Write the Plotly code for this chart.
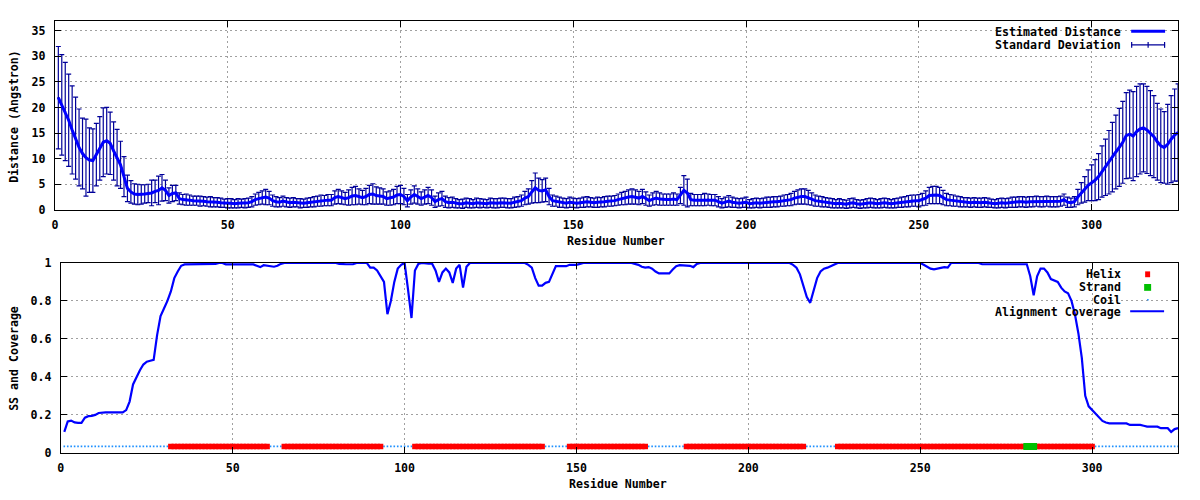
import plotly.graph_objects as go

# ---------------- data ----------------
residues = list(range(1, 326))

distance = [
    21.9, 20.5, 19.2, 17.5, 15.6, 14.0, 12.2, 11.0, 10.2, 9.7,
    9.6, 10.8, 12.0, 13.2, 13.5, 13.0, 11.5, 10.2, 8.8, 6.5,
    4.2, 3.5, 3.1, 3.0, 3.0, 3.1, 3.2, 3.3, 3.6, 3.8,
    4.3, 3.8, 2.8, 3.2, 3.3, 2.2, 2.0, 2.0, 1.9, 1.8,
    1.8, 1.7, 1.7, 1.6, 1.6, 1.5, 1.5, 1.4, 1.3, 1.3,
    1.3, 1.2, 1.3, 1.3, 1.3, 1.4, 1.6, 2.0, 2.2, 2.4,
    2.5, 2.3, 1.8, 1.6, 1.5, 1.7, 1.5, 1.4, 1.5, 1.4,
    1.3, 1.3, 1.4, 1.5, 1.6, 1.7, 1.8, 1.8, 1.9, 1.9,
    2.4, 2.6, 2.4, 2.2, 2.4, 2.7, 2.8, 2.6, 2.4, 2.6,
    3.0, 3.1, 2.8, 2.7, 2.6, 2.2, 2.3, 2.5, 2.9, 3.0,
    2.6, 1.8, 2.5, 3.0, 2.6, 2.2, 2.5, 2.8, 2.4, 1.6,
    2.0, 2.2, 1.6, 1.4, 1.5, 1.3, 1.2, 1.2, 1.4, 1.3,
    1.2, 1.4, 1.3, 1.3, 1.2, 1.4, 1.3, 1.3, 1.4, 1.4,
    1.3, 1.3, 1.5, 1.6, 1.8, 2.3, 2.6, 3.5, 4.3, 3.8,
    3.7, 3.9, 2.6, 1.8, 1.7, 1.5, 1.4, 1.3, 1.5, 1.4,
    1.3, 1.4, 1.5, 1.6, 1.5, 1.4, 1.5, 1.5, 1.6, 1.7,
    1.7, 1.8, 2.0, 2.2, 2.3, 2.5, 2.6, 2.5, 2.3, 2.6,
    2.2, 1.8, 2.1, 2.3, 2.1, 2.0, 2.0, 2.0, 2.1, 2.0,
    2.8, 3.8, 3.3, 2.0, 1.9, 1.9, 1.9, 2.0, 2.0, 1.9,
    1.9, 1.6, 1.3, 1.5, 1.7, 1.5, 1.4, 1.3, 1.4, 1.5,
    1.2, 1.3, 1.4, 1.3, 1.4, 1.5, 1.5, 1.6, 1.6, 1.7,
    1.8, 1.9, 2.0, 2.3, 2.5, 2.6, 2.6, 2.4, 2.1, 1.8,
    1.7, 1.6, 1.5, 1.4, 1.3, 1.2, 1.3, 1.2, 1.1, 1.3,
    1.4, 1.2, 1.1, 1.2, 1.3, 1.4, 1.3, 1.2, 1.3, 1.4,
    1.3, 1.2, 1.3, 1.4, 1.5, 1.6, 1.7, 1.8, 1.8, 1.8,
    2.0, 2.3, 2.8, 2.9, 2.9, 2.8, 2.4, 2.0, 1.9, 1.8,
    1.7, 1.6, 1.5, 1.5, 1.4, 1.5, 1.4, 1.4, 1.5, 1.4,
    1.3, 1.2, 1.3, 1.4, 1.3, 1.4, 1.5, 1.5, 1.6, 1.6,
    1.5, 1.6, 1.6, 1.7, 1.6, 1.6, 1.7, 1.6, 1.6, 1.6,
    1.7, 2.0, 1.5, 1.4, 1.6, 2.5, 3.3, 4.0, 4.8, 5.3,
    5.8, 6.5, 7.5, 8.3, 9.3, 10.3, 11.3, 12.2, 13.2, 14.5,
    14.8, 14.4, 15.3, 15.8, 16.0, 15.6, 15.0, 14.3, 13.3, 12.5,
    12.2, 12.8, 13.8, 14.6, 15.1,
]

std_dev = [
    10.0, 9.8, 9.6, 9.0, 8.6, 8.0, 7.5, 6.9, 7.5, 6.3,
    6.2, 6.1, 6.2, 6.7, 6.5, 6.1, 5.7, 5.5, 4.6, 3.9,
    2.6, 2.2, 2.0, 2.0, 1.9, 1.8, 1.8, 2.5, 2.2, 2.8,
    2.6, 2.0, 1.5, 1.6, 1.5, 1.1, 1.0, 1.1, 1.0, 0.9,
    0.9, 1.0, 0.9, 0.9, 1.0, 0.9, 0.9, 0.9, 0.8, 0.9,
    0.9, 0.8, 0.9, 0.8, 0.9, 0.9, 1.0, 1.1, 1.2, 1.3,
    1.5, 1.3, 1.1, 1.0, 0.9, 1.0, 0.9, 0.9, 0.9, 0.8,
    0.9, 0.8, 0.9, 0.9, 1.0, 1.0, 1.1, 1.0, 1.1, 1.1,
    1.3, 1.4, 1.3, 1.2, 1.5, 1.7, 1.8, 1.5, 1.4, 1.6,
    1.8, 2.0, 1.7, 1.6, 1.5, 1.3, 1.4, 1.5, 1.7, 1.8,
    1.6, 1.2, 1.4, 1.7, 1.5, 1.3, 1.4, 1.6, 1.5, 1.1,
    1.3, 1.4, 1.1, 1.0, 1.0, 0.9, 0.8, 0.9, 0.9, 0.9,
    0.8, 0.9, 0.9, 0.8, 0.8, 0.9, 0.9, 0.9, 0.9, 0.9,
    0.9, 0.9, 1.0, 1.0, 1.1, 1.3, 1.5, 2.2, 2.9, 2.4,
    2.2, 2.3, 1.6, 1.1, 1.0, 1.0, 0.9, 0.9, 1.0, 0.9,
    0.9, 0.9, 1.0, 1.0, 0.9, 0.9, 1.0, 0.9, 1.0, 1.0,
    1.0, 1.0, 1.1, 1.2, 1.3, 1.4, 1.5, 1.4, 1.3, 1.4,
    1.3, 1.1, 1.2, 1.3, 1.2, 1.1, 1.1, 1.1, 1.2, 1.1,
    1.6, 2.9, 2.7, 1.2, 1.1, 1.1, 1.1, 1.2, 1.1, 1.1,
    1.1, 1.0, 0.9, 1.0, 1.1, 1.0, 0.9, 0.9, 0.9, 1.0,
    0.8, 0.9, 0.9, 0.9, 0.9, 1.0, 1.0, 1.0, 1.0, 1.0,
    1.1, 1.1, 1.2, 1.3, 1.4, 1.5, 1.5, 1.4, 1.2, 1.1,
    1.0, 1.0, 0.9, 0.9, 0.9, 0.8, 0.9, 0.8, 0.8, 0.9,
    0.9, 0.8, 0.8, 0.8, 0.9, 0.9, 0.9, 0.8, 0.9, 0.9,
    0.9, 0.8, 0.9, 0.9, 1.0, 1.0, 1.1, 1.1, 1.1, 1.2,
    1.2, 1.4, 1.6, 1.7, 1.7, 1.6, 1.4, 1.2, 1.1, 1.1,
    1.0, 1.0, 0.9, 0.9, 0.9, 0.9, 0.9, 0.9, 0.9, 0.9,
    0.8, 0.8, 0.9, 0.9, 0.9, 0.9, 1.0, 1.0, 1.0, 1.0,
    1.0, 1.0, 1.0, 1.0, 1.0, 1.0, 1.0, 1.0, 1.0, 1.0,
    1.0, 1.1, 1.0, 0.9, 1.0, 1.5, 2.0, 2.5, 3.0, 3.5,
    4.0, 4.5, 5.0, 5.5, 6.2, 6.8, 7.2, 7.6, 8.0, 8.4,
    8.6, 8.7, 8.8, 8.8, 8.6, 8.5, 8.3, 8.0, 7.5, 7.2,
    7.0, 7.8, 8.5, 9.0, 9.5,
]

coverage = [
    0.11, 0.165, 0.17, 0.16, 0.158, 0.158, 0.185, 0.193, 0.195, 0.2,
    0.21, 0.213, 0.213, 0.213, 0.213, 0.213, 0.213, 0.213, 0.225, 0.27,
    0.36, 0.4, 0.435, 0.465, 0.48, 0.485, 0.49, 0.62, 0.72, 0.76,
    0.8, 0.85, 0.92, 0.955, 0.985, 0.992, 0.992, 0.992, 0.992, 0.992,
    0.992, 0.992, 0.992, 0.992, 0.995, 1.0, 1.0, 0.992, 0.992, 0.992,
    0.992, 0.992, 0.992, 0.992, 0.992, 0.992, 0.985, 0.978, 0.988, 0.985,
    0.98, 0.98, 0.985, 0.995, 1.0, 1.0, 1.0, 1.0, 1.0, 1.0,
    1.0, 1.0, 1.0, 1.0, 1.0, 1.0, 1.0, 1.0, 1.0, 1.0,
    0.995, 0.993, 0.993, 0.993, 0.993, 1.0, 1.0, 1.0, 1.0, 0.975,
    0.975, 0.96, 0.93, 0.9, 0.73, 0.8, 0.9, 0.97, 0.99, 1.0,
    0.86, 0.71, 0.96, 0.995, 1.0, 0.996, 0.996, 0.996, 0.96, 0.9,
    0.95, 0.97, 0.95, 0.895, 0.97, 0.99, 0.87, 0.98, 1.0, 1.0,
    1.0, 1.0, 1.0, 1.0, 1.0, 1.0, 1.0, 1.0, 1.0, 1.0,
    1.0, 1.0, 1.0, 1.0, 1.0, 0.99, 0.975, 0.92, 0.88, 0.88,
    0.895, 0.9, 0.94, 0.983, 0.983, 0.983, 0.983, 0.99, 0.99, 0.99,
    0.995, 1.0, 1.0, 1.0, 1.0, 1.0, 1.0, 1.0, 1.0, 1.0,
    1.0, 1.0, 1.0, 1.0, 1.0, 1.0, 0.995, 0.99, 0.98, 0.975,
    0.978, 0.97, 0.955, 0.945, 0.945, 0.945, 0.945, 0.965, 0.983, 0.988,
    0.988, 0.988, 0.985, 0.978, 0.995, 1.0, 1.0, 1.0, 1.0, 1.0,
    1.0, 1.0, 1.0, 1.0, 1.0, 1.0, 1.0, 1.0, 1.0, 1.0,
    1.0, 1.0, 1.0, 1.0, 1.0, 1.0, 1.0, 1.0, 1.0, 1.0,
    1.0, 1.0, 0.99, 0.975, 0.94, 0.88, 0.82, 0.79, 0.86, 0.92,
    0.955, 0.97, 0.975, 0.983, 0.99, 1.0, 1.0, 1.0, 1.0, 1.0,
    1.0, 1.0, 1.0, 1.0, 1.0, 1.0, 1.0, 1.0, 0.997, 0.997,
    0.997, 1.0, 1.0, 1.0, 0.997, 0.997, 1.0, 1.0, 1.0, 1.0,
    0.99, 0.978, 0.97, 0.966, 0.97, 0.978, 0.978, 0.975, 1.0, 1.0,
    1.0, 1.0, 1.0, 1.0, 1.0, 1.0, 1.0, 0.993, 0.993, 0.993,
    0.993, 0.993, 0.993, 0.993, 0.993, 0.993, 0.993, 0.993, 0.993, 0.993,
    0.993, 0.93, 0.83, 0.93, 0.97, 0.97, 0.95, 0.915, 0.906, 0.9,
    0.87, 0.85, 0.84, 0.8, 0.73, 0.63, 0.5, 0.3, 0.245, 0.225,
    0.21, 0.19, 0.168, 0.16, 0.155, 0.155, 0.155, 0.155, 0.155, 0.155,
    0.147, 0.147, 0.147, 0.147, 0.143, 0.138, 0.138, 0.138, 0.138, 0.13,
    0.13, 0.13, 0.11, 0.125, 0.13,
]

# secondary structure segments (first, last residue)
helix_segments = [(32, 60), (65, 93), (103, 140), (148, 170), (182, 216), (226, 280), (284, 300)]
strand_segments = [(281, 283)]
ss_level = 0.034

x_ticks = [0, 50, 100, 150, 200, 250, 300]
dist_ticks = [0, 5, 10, 15, 20, 25, 30, 35]
cov_ticks = [0, 0.2, 0.4, 0.6, 0.8, 1]

# ---------------- build ----------------
def expand(segs):
    out = []
    for a, b in segs:
        out.extend(range(a, b + 1))
    return out

helix_res = expand(helix_segments)
strand_res = expand(strand_segments)
coil_res = [r for r in residues if r not in helix_res and r not in strand_res]

W, H = 1200, 500
FONT = dict(family="DejaVu Sans Mono", size=11.6, color="black", weight="bold")

def px(x):
    return x / W

def py(y):
    return 1 - y / H

LINE_BLUE = "#0000ff"
ERR_BLUE = "#000099"
GRID = "#a0a0a0"

fig = go.Figure()

fig.add_trace(go.Scatter(
    x=residues, y=distance, mode="markers",
    marker=dict(size=2, color=ERR_BLUE),
    error_y=dict(type="data", array=std_dev, visible=True, color=ERR_BLUE, thickness=1.2, width=2.5),
    xaxis="x", yaxis="y", showlegend=False, hoverinfo="skip"))
fig.add_trace(go.Scatter(
    x=residues, y=distance, mode="lines",
    line=dict(color=LINE_BLUE, width=3),
    xaxis="x", yaxis="y", showlegend=False))

fig.add_trace(go.Scatter(
    x=coil_res, y=[ss_level] * len(coil_res), mode="markers",
    marker=dict(symbol="square", size=1.6, color="#1e90ff", line=dict(width=0)),
    xaxis="x2", yaxis="y2", showlegend=False))
fig.add_trace(go.Scatter(
    x=helix_res, y=[ss_level] * len(helix_res), mode="markers",
    marker=dict(symbol="square", size=5.5, color="#ff0000", line=dict(width=0)),
    xaxis="x2", yaxis="y2", showlegend=False))
fig.add_trace(go.Scatter(
    x=strand_res, y=[ss_level] * len(strand_res), mode="markers",
    marker=dict(symbol="square", size=7, color="#00c000", line=dict(width=0)),
    xaxis="x2", yaxis="y2", showlegend=False))
fig.add_trace(go.Scatter(
    x=residues, y=coverage, mode="lines",
    line=dict(color=LINE_BLUE, width=2.2),
    xaxis="x2", yaxis="y2", showlegend=False))

axis_common = dict(
    showline=True, linecolor="black", linewidth=1, mirror="ticks",
    ticks="inside", ticklen=6, tickcolor="black", tickwidth=1,
    showgrid=True, gridcolor=GRID, gridwidth=1, griddash="2px,3px",
    zeroline=False, tickfont=FONT, fixedrange=True,
)

fig.update_layout(
    width=W, height=H, autosize=False,
    margin=dict(l=0, r=0, t=0, b=0),
    paper_bgcolor="white", plot_bgcolor="white",
    font=FONT, showlegend=False,
    xaxis=dict(domain=[px(52), px(1178)], range=[0, 325], tickvals=x_ticks, anchor="y",
               ticklabelstandoff=4, **axis_common),
    yaxis=dict(domain=[py(208.7), py(14.3)], range=[0, 36.9], tickvals=dist_ticks, anchor="x",
               ticklabelstandoff=6, **axis_common),
    xaxis2=dict(domain=[px(58), px(1178)], range=[0, 325], tickvals=x_ticks, anchor="y2",
                ticklabelstandoff=4, **axis_common),
    yaxis2=dict(domain=[py(458.7), py(263.3)], range=[0, 1], tickvals=cov_ticks, anchor="x2",
                ticklabelstandoff=6, **axis_common),
)

ann = []
def text(t, x, y, xanchor="center", angle=0):
    ann.append(dict(text=t, x=px(x), y=py(y), xref="paper", yref="paper",
                    xanchor=xanchor, yanchor="middle", showarrow=False,
                    textangle=angle, font=FONT))

text("Distance (Angstron)", 11, 112, angle=-90)
text("Residue Number", 615, 240.5)
text("SS and Coverage", 11, 361, angle=-90)
text("Residue Number", 617, 490.5)
text("Estimated Distance", 1123, 26, xanchor="right")
text("Standard Deviation", 1123, 39, xanchor="right")
text("Helix", 1123, 275, xanchor="right")
text("Strand", 1123, 288, xanchor="right")
text("Coil", 1123, 301, xanchor="right")
text("Alignment Coverage", 1123, 314, xanchor="right")
fig.update_layout(annotations=ann)

shapes = []
def seg(x0, y0, x1, y1, color, width):
    shapes.append(dict(type="line", xref="paper", yref="paper",
                       x0=px(x0), y0=py(y0), x1=px(x1), y1=py(y1),
                       line=dict(color=color, width=width)))
def box(x0, y0, x1, y1, color, layer="above"):
    shapes.append(dict(type="rect", xref="paper", yref="paper",
                       x0=px(x0), y0=py(y0), x1=px(x1), y1=py(y1),
                       fillcolor=color, line=dict(width=0), layer=layer))

# opaque key boxes (hide grid, keep data)
box(994, 15, 1177, 46, "white", layer="between")
box(998, 264, 1177, 320, "white", layer="between")

# key samples
seg(1131, 25, 1165, 25, LINE_BLUE, 3)
seg(1131, 39, 1165, 39, ERR_BLUE, 1.2)
seg(1131.5, 36, 1131.5, 42, ERR_BLUE, 1.2)
seg(1164.5, 36, 1164.5, 42, ERR_BLUE, 1.2)
seg(1148, 36, 1148, 42, ERR_BLUE, 1.2)
box(1145, 272, 1150, 278, "#ff0000")
box(1144, 285, 1151, 292, "#00c000")
box(1147, 300.5, 1148.5, 302, "#1e90ff")
seg(1130, 313, 1164, 313, LINE_BLUE, 2.2)
fig.update_layout(shapes=shapes)

# remove the default page margin so the figure sits at the window origin
fig.write_html(
    "out.html",
    config={"displayModeBar": False, "staticPlot": True},
    post_script="document.body.style.margin='0';document.body.style.overflow='hidden';",
)
